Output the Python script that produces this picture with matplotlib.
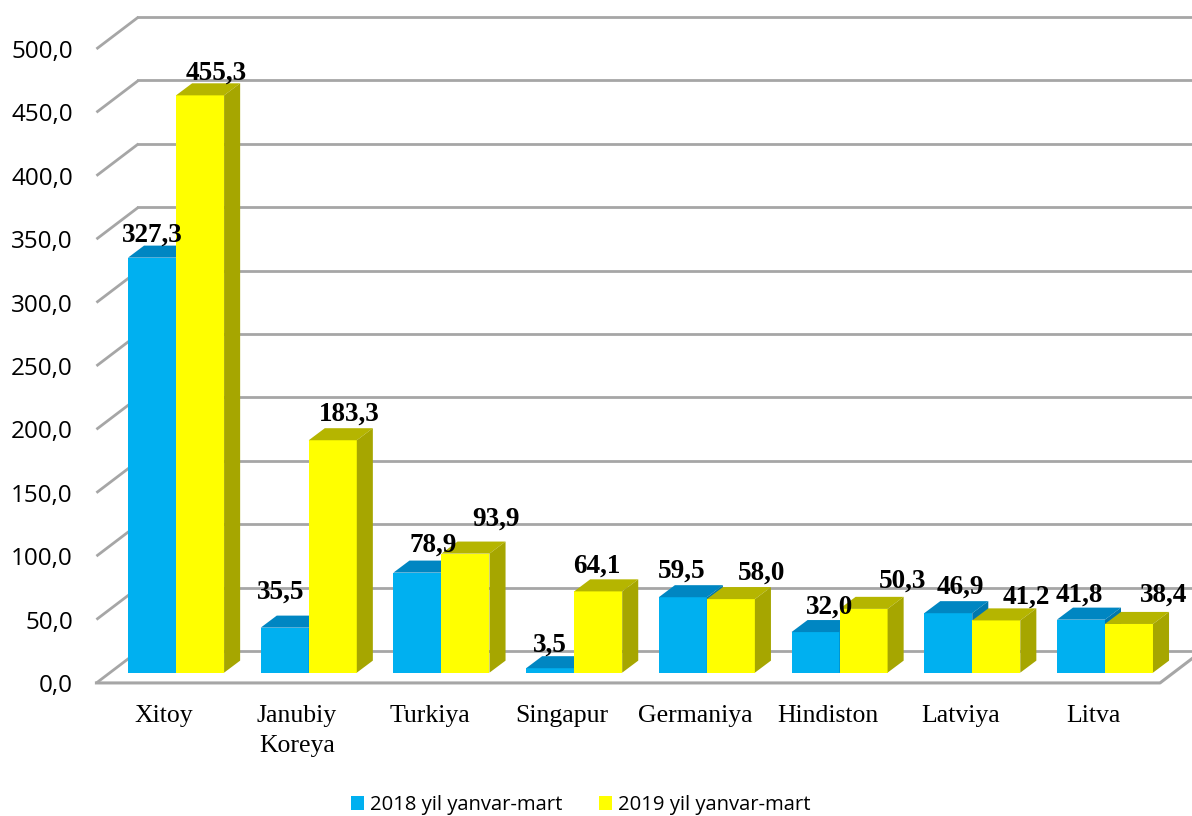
#!/usr/bin/env python3
import numpy as np
import matplotlib.pyplot as plt
from matplotlib.patches import Polygon, Patch
from matplotlib.transforms import blended_transform_factory

# data
countries = ['Xitoy', 'Janubiy\nKoreya', 'Turkiya', 'Singapur', 'Germaniya',
             'Hindiston', 'Latviya', 'Litva']
vals_2018 = [327.3, 35.5, 78.9, 3.5, 59.5, 32.0, 46.9, 41.8]
vals_2019 = [455.3, 183.3, 93.9, 64.1, 58.0, 50.3, 41.2, 38.4]
series_names = ['2018 yil yanvar-mart', '2019 yil yanvar-mart']
yticks = [0, 50, 100, 150, 200, 250, 300, 350, 400, 450, 500]

# look
BLUE = ('#00B0F0', '#0086C2', '#0077AD')      # front, top, side
YELLOW = ('#FFFF00', '#B5B500', '#A6A600')
GRID = '#A6A6A6'

# fake 3d geometry (x in category units, y in value units)
bar_w = 0.362
bar_dx, bar_dy = 0.121, 9.5        # depth of a bar
bar_x0, bar_y0 = 0.0, 8.1          # bars stand a bit behind the front edge
wall_dx, wall_dy = 0.317, 25.2     # back wall offset
x_front = -0.6
x_floor_end = 7.415

# label nudges (pixels) as excel put them
nudge_2018 = [(0, 4), (-4, 17), (16, 9), (0, 5), (-1, 8), (14, 6), (12, 7), (-2, 6)]
nudge_2019 = [(16, 4), (16, 8), (31, 16), (-1, 7), (31, 7), (39, 9), (30, 5), (35, 10)]


def draw_bar(ax, x0, v, cols):
    front, top, side = cols
    y0 = bar_y0
    y1 = bar_y0 + v
    ax.add_patch(Polygon([(x0, y0), (x0 + bar_w, y0), (x0 + bar_w, y1), (x0, y1)],
                         closed=True, fc=front, ec='none', zorder=3))
    ax.add_patch(Polygon([(x0, y1), (x0 + bar_w, y1), (x0 + bar_w + bar_dx, y1 + bar_dy),
                          (x0 + bar_dx, y1 + bar_dy)], closed=True, fc=top, ec='none', zorder=3))
    ax.add_patch(Polygon([(x0 + bar_w, y0), (x0 + bar_w + bar_dx, y0 + bar_dy),
                          (x0 + bar_w + bar_dx, y1 + bar_dy), (x0 + bar_w, y1)],
                         closed=True, fc=side, ec='none', zorder=3))


fig = plt.figure(figsize=(11.92, 8.16), dpi=100)
ax = fig.add_axes([0.0809, 0.1553, 0.9191, 0.8447])
ax.set_xlim(x_front, 7.656)
ax.set_ylim(-5, 538.6)
for s in ax.spines.values():
    s.set_visible(False)
ax.set_xticks([])
ax.set_yticks(yticks)
ax.set_yticklabels(['{:.1f}'.format(t).replace('.', ',') for t in yticks],
                   fontsize=17.5, family='Open Sans')
ax.tick_params(axis='y', length=0, pad=17)
for lab in ax.get_yticklabels():
    lab.set_va('center_baseline')

# walls / grid
for t in yticks:
    ax.plot([x_front, x_front + wall_dx], [t, t + wall_dy], color=GRID, lw=2,
            zorder=1, clip_on=False, solid_capstyle='butt')
    ax.plot([x_front + wall_dx, 8.0], [t + wall_dy, t + wall_dy], color=GRID, lw=2,
            zorder=1, clip_on=True)
# floor front edge
ax.plot([x_front, x_floor_end, x_floor_end + wall_dx], [0, 0, wall_dy], color=GRID,
        lw=2.2, zorder=1, clip_on=False)

x = np.arange(len(countries))
for i in x:
    draw_bar(ax, i - bar_w + bar_x0, vals_2018[i], BLUE)
    draw_bar(ax, i + bar_x0, vals_2019[i], YELLOW)

lab_font = dict(family='Liberation Serif', fontsize=19.5, fontweight='bold')
for i in x:
    for vals, nud, xc in ((vals_2018, nudge_2018, i - bar_w / 2),
                          (vals_2019, nudge_2019, i + bar_w / 2)):
        v = vals[i]
        ax.annotate('{:.1f}'.format(v).replace('.', ','),
                    xy=(xc, bar_y0 + v + bar_dy), xytext=nud[i],
                    textcoords='offset pixels', ha='center', va='baseline',
                    zorder=5, **lab_font)

# category names, one text per line
tr = blended_transform_factory(ax.transData, fig.transFigure)
for i, name in enumerate(countries):
    for k, line in enumerate(name.split('\n')):
        ax.text(i - 0.09, (816 - 722 - 30 * k) / 816, line, transform=tr, ha='center',
                va='baseline', family='Liberation Serif', fontsize=18.5)

handles = [Patch(fc=BLUE[0], ec='none'), Patch(fc=YELLOW[0], ec='none')]
fig.legend(handles, series_names, loc='center', bbox_to_anchor=(581 / 1192, (816 - 805) / 816),
           ncol=2, frameon=False, prop=dict(family='Open Sans', size=14.6),
           handlelength=0.65, handleheight=0.65, handletextpad=0.3, columnspacing=1.8)

fig.savefig('out.png', dpi=100)
